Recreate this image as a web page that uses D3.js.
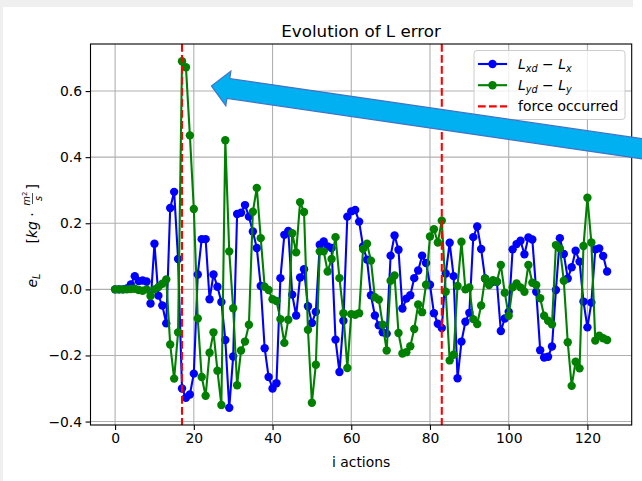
<!DOCTYPE html>
<html>
<head>
<meta charset="utf-8">
<script src="https://cdn.jsdelivr.net/npm/d3@7"></script>
<style>
body{margin:0;background:#fff;}
svg{display:block;font-family:"DejaVu Sans",sans-serif;}
</style>
</head>
<body>
<div id="chart"></div>
<script>

///////////////////////////////////////////////////////////////////////
// data

let steps = d3.range(0, 126);

let errX = [
    0, 0, 0, 0.003, 0.015, 0.04, 0.025, 0.027, 0.024, -0.043,
    0.138, -0.019, -0.049, -0.103, 0.246, 0.295, 0.092, -0.30, -0.328, -0.318,
    -0.255, 0.045, 0.152, 0.152, -0.03, 0.045, 0.008, -0.038, -0.153, -0.358,
    -0.203, 0.228, 0.232, 0.255, 0.22, 0.175, 0.125, 0.01, -0.178, -0.265,
    -0.30, -0.284, 0.034, 0.165, 0.177, -0.016, -0.079, 0.036, 0.061, -0.051,
    -0.102, -0.068, 0.135, 0.145, 0.13, 0.125, -0.152, -0.25, -0.095, 0.22,
    0.236, 0.24, 0.205, 0.13, 0.09, -0.018, -0.079, -0.109, -0.13, -0.134,
    0.102, 0.163, 0.12, -0.058, -0.028, -0.018, 0.034, 0.057, 0.102, 0.08,
    0.014, -0.072, -0.104, -0.117, 0.048, 0.141, 0.04, -0.269, -0.158, -0.098,
    -0.071, 0.158, 0.19, 0.122, 0.033, 0.018, 0.023, 0.023, -0.126, -0.088,
    -0.068, 0.121, 0.137, 0.147, 0.106, 0.157, 0.151, -0.007, -0.184, -0.206,
    -0.204, -0.173, -0.002, 0.155, 0.107, 0.033, 0.067, 0.117, 0.084, -0.037,
    -0.115, -0.04, 0.121, 0.124, 0.101, 0.054
];

let errY = [
    0, 0, 0, 0, 0.001, 0.002, -0.002, -0.004, 0.0, -0.02,
    0.0, 0.007, 0.017, 0.03, -0.167, -0.27, -0.13, 0.69, 0.672, 0.466,
    0.243, -0.088, -0.265, -0.322, -0.192, -0.13, -0.246, -0.35, 0.451, 0.115,
    -0.057, -0.29, -0.185, -0.158, -0.107, 0.235, 0.307, 0.155, 0.008, -0.002,
    -0.03, -0.035, -0.09, -0.162, -0.092, 0.17, 0.112, 0.264, 0.234, -0.122,
    -0.343, -0.228, 0.115, 0.115, 0.054, 0.092, 0.158, 0.034, -0.072, -0.238,
    -0.075, -0.077, -0.072, 0.122, 0.138, 0.087, -0.024, -0.031, -0.107, -0.185,
    0.026, 0.042, -0.132, -0.194, -0.19, -0.172, -0.12, -0.046, -0.069, 0.014,
    0.16, 0.182, 0.142, 0.208, -0.007, -0.215, -0.198, 0.01, 0.144, 0.0,
    0.006, -0.09, -0.105, -0.049, 0.033, 0.013, 0.028, 0.023, 0.074, -0.01,
    -0.08, 0.006, 0.018, 0.006, -0.007, 0.074, 0.02, 0.013, -0.027, -0.08,
    -0.095, -0.106, 0.134, 0.124, 0.026, -0.16, -0.292, -0.219, -0.239, 0.131,
    0.277, 0.142, -0.155, -0.14, -0.148, -0.153
];

let forceSteps = [17, 83];

let xTicks = [0, 20, 40, 60, 80, 100, 120];
let yTicks = [-0.4, -0.2, 0.0, 0.2, 0.4, 0.6];

let seriesList = [
    {name: "x", values: errX, color: "#0000ff"},
    {name: "y", values: errY, color: "#008000"}
];

///////////////////////////////////////////////////////////////////////
// layout

let W = 642, H = 481;
let pLeft = 90.5, pRight = 631.7, pTop = 44, pBottom = 425;

let svg = d3.select("#chart")
            .append("svg")
            .attr("width", W)
            .attr("height", H);

// screenshot frame
svg.append("rect").attr("x", 0).attr("y", 0).attr("width", 633).attr("height", 7).attr("fill", "#efefef");
svg.append("rect").attr("x", 0).attr("y", 0).attr("width", 3).attr("height", H).attr("fill", "#efefef");

// matplotlib style 5% margins
let xPad = (d3.max(steps) - d3.min(steps)) * 0.05;
let allVals = errX.concat(errY);
let yMin = d3.min(allVals), yMax = d3.max(allVals);
let yPad = (yMax - yMin) * 0.05;

let x = d3.scaleLinear()
          .domain([d3.min(steps) - xPad, d3.max(steps) + xPad])
          .range([pLeft, pRight]);

let y = d3.scaleLinear()
          .domain([yMin - yPad, yMax + yPad])
          .range([pBottom, pTop]);

///////////////////////////////////////////////////////////////////////
// grid

let grid = svg.append("g");
grid.selectAll(".gx").data(xTicks).enter().append("line")
    .attr("x1", d => x(d)).attr("x2", d => x(d))
    .attr("y1", pTop).attr("y2", pBottom)
    .attr("stroke", "#b0b0b0").attr("stroke-width", 1.1);
grid.selectAll(".gy").data(yTicks).enter().append("line")
    .attr("x1", pLeft).attr("x2", pRight)
    .attr("y1", d => y(d)).attr("y2", d => y(d))
    .attr("stroke", "#b0b0b0").attr("stroke-width", 1.1);

///////////////////////////////////////////////////////////////////////
// series

svg.append("clipPath").attr("id", "clip")
   .append("rect").attr("x", pLeft).attr("y", pTop)
   .attr("width", pRight - pLeft).attr("height", pBottom - pTop);

let plot = svg.append("g").attr("clip-path", "url(#clip)");

let lineGen = d3.line()
                .x((d, i) => x(steps[i]))
                .y(d => y(d));

seriesList.forEach(function(s){
    plot.append("path")
        .datum(s.values)
        .attr("d", lineGen)
        .attr("fill", "none")
        .attr("stroke", s.color)
        .attr("stroke-width", 2.1)
        .attr("stroke-linejoin", "round");

    plot.selectAll(".dot-" + s.name)
        .data(s.values)
        .enter().append("circle")
        .attr("cx", (d, i) => x(steps[i]))
        .attr("cy", d => y(d))
        .attr("r", 4.2)
        .attr("fill", s.color);
});

// force lines
plot.selectAll(".force")
    .data(forceSteps)
    .enter().append("line")
    .attr("x1", d => x(d)).attr("x2", d => x(d))
    .attr("y1", pTop).attr("y2", pBottom)
    .attr("stroke", "#ff0000")
    .attr("stroke-width", 2.1)
    .attr("stroke-dasharray", "7.7,3.3");

///////////////////////////////////////////////////////////////////////
// axes

let xAxis = svg.append("g")
    .attr("transform", "translate(0," + pBottom + ")")
    .call(d3.axisBottom(x).tickValues(xTicks).tickFormat(d3.format("d"))
          .tickSize(4.9).tickPadding(3.5).tickSizeOuter(0));

let yAxis = svg.append("g")
    .attr("transform", "translate(" + pLeft + ",0)")
    .call(d3.axisLeft(y).tickValues(yTicks).tickFormat(d3.format(".1f"))
          .tickSize(4.9).tickPadding(3.5).tickSizeOuter(0));

[xAxis, yAxis].forEach(function(ax){
    ax.select(".domain").remove();
    ax.selectAll(".tick line").attr("stroke", "#000").attr("stroke-width", 1.1);
    ax.selectAll(".tick text")
      .attr("font-family", "DejaVu Sans")
      .attr("font-size", 13.9)
      .attr("fill", "#000");
});

// spines
svg.append("rect")
   .attr("x", pLeft).attr("y", pTop)
   .attr("width", pRight - pLeft).attr("height", pBottom - pTop)
   .attr("fill", "none").attr("stroke", "#000").attr("stroke-width", 1.1);

///////////////////////////////////////////////////////////////////////
// texts

svg.append("text")
   .attr("x", (pLeft + pRight) / 2).attr("y", 36.5)
   .attr("text-anchor", "middle")
   .attr("font-size", 16.7)
   .text("Evolution of L error");

svg.append("text")
   .attr("x", (pLeft + pRight) / 2).attr("y", 467)
   .attr("text-anchor", "middle")
   .attr("font-size", 13.9)
   .text("i actions");

// y label: e_L   [kg · m²/s]
let ylab = svg.append("g")
              .attr("transform", "translate(37," + ((pTop + pBottom) / 2) + ") rotate(-90)")
              .attr("font-size", 13.9);

let eL = ylab.append("text").attr("x", -53).attr("y", 0);
eL.append("tspan").attr("font-style", "italic").text("e");
eL.append("tspan").attr("font-style", "italic").attr("font-size", 9.7).attr("dy", 3).text("L");

let kg = ylab.append("text").attr("x", -9).attr("y", 0);
kg.append("tspan").text("[");
kg.append("tspan").attr("font-style", "italic").text("kg");
kg.append("tspan").text(" · ");

let frac = ylab.append("g").attr("transform", "translate(36,0)");
let num = frac.append("text").attr("y", -7).attr("text-anchor", "middle").attr("font-size", 9.7);
num.append("tspan").attr("font-style", "italic").text("m");
num.append("tspan").attr("font-size", 6.8).attr("dy", -3.5).text("2");
frac.append("line").attr("x1", -5.5).attr("x2", 5.5).attr("y1", -4.5).attr("y2", -4.5)
    .attr("stroke", "#000").attr("stroke-width", 0.7);
frac.append("text").attr("y", 4.5).attr("text-anchor", "middle").attr("font-size", 9.7)
    .attr("font-style", "italic").text("s");

ylab.append("text").attr("x", 45).attr("y", 0).text("]");

///////////////////////////////////////////////////////////////////////
// legend

let legend = svg.append("g").attr("transform", "translate(474,50.5)");
legend.append("rect")
      .attr("width", 151).attr("height", 69).attr("rx", 3)
      .attr("fill", "#fff").attr("fill-opacity", 0.8)
      .attr("stroke", "#cccccc").attr("stroke-width", 1);

let legItems = [
    {color: "#0000ff", sub1: "xd", sub2: "x", dot: true},
    {color: "#008000", sub1: "yd", sub2: "y", dot: true},
    {color: "#ff0000", label: "force occurred", dot: false}
];

legItems.forEach(function(it, k){
    let row = legend.append("g").attr("transform", "translate(0," + (13.5 + k * 21.2) + ")");
    let ln = row.append("line").attr("x1", 4).attr("x2", 33).attr("y1", 0).attr("y2", 0)
                .attr("stroke", it.color).attr("stroke-width", 2.1);
    if(it.dot){
        row.append("circle").attr("cx", 18.5).attr("cy", 0).attr("r", 4.2).attr("fill", it.color);
        let t = row.append("text").attr("x", 44).attr("y", 5).attr("font-size", 13.9);
        t.append("tspan").attr("font-style", "italic").text("L");
        t.append("tspan").attr("font-style", "italic").attr("font-size", 9.7).attr("dy", 3).text(it.sub1);
        t.append("tspan").attr("dy", -3).text(" − ");
        t.append("tspan").attr("font-style", "italic").text("L");
        t.append("tspan").attr("font-style", "italic").attr("font-size", 9.7).attr("dy", 3).text(it.sub2);
    }else{
        ln.attr("stroke-dasharray", "7.7,3.3");
        row.append("text").attr("x", 44).attr("y", 5).attr("font-size", 13.9).text(it.label);
    }
});

///////////////////////////////////////////////////////////////////////
// the blue callout arrow pasted on top

let tip = [211.5, 86];
let ang = 8.3 * Math.PI / 180;
let u = [Math.cos(ang), Math.sin(ang)];
let v = [-Math.sin(ang), Math.cos(ang)];
let headLen = 17, headHalf = 17.5, shaftHalf = 10, shaftLen = 520;

function pt(a, b){
    return [tip[0] + a * u[0] + b * v[0], tip[1] + a * u[1] + b * v[1]];
}

let arrowPts = [
    pt(0, 0),
    pt(headLen, -headHalf),
    pt(headLen, -shaftHalf),
    pt(shaftLen, -shaftHalf),
    pt(shaftLen, shaftHalf),
    pt(headLen, shaftHalf),
    pt(headLen, headHalf)
];

svg.append("polygon")
   .attr("points", arrowPts.map(p => p.join(",")).join(" "))
   .attr("fill", "#00b0f0")
   .attr("stroke", "#4472c4")
   .attr("stroke-width", 1.2)
   .attr("stroke-linejoin", "miter");

</script>
</body>
</html>
